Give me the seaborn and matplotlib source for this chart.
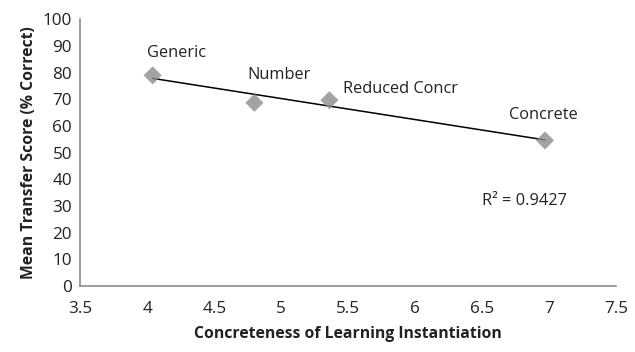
import numpy as np
import pandas as pd
import matplotlib
matplotlib.use("Agg")
import matplotlib.pyplot as plt
import seaborn as sns

# valeurs
conditions = ["Generic", "Number", "Reduced Concr", "Concrete"]
concreteness = [4.04, 4.80, 5.36, 6.97]
transfer_score = [79.0, 68.7, 69.7, 54.6]
r2_label = "R² = 0.9427"

x_ticks = [3.5, 4, 4.5, 5, 5.5, 6, 6.5, 7, 7.5]
y_ticks = [0, 10, 20, 30, 40, 50, 60, 70, 80, 90, 100]

df = pd.DataFrame({"cond": conditions, "x": concreteness, "y": transfer_score})

sns.set_theme(style="white")
plt.rcParams["font.family"] = ["Open Sans", "DejaVu Sans"]

fig = plt.figure(figsize=(6.35, 3.52), dpi=100)
ax = fig.add_axes([0.1265, 0.1875, 0.8435, 0.7575])

sns.regplot(data=df, x="x", y="y", ax=ax, ci=None, truncate=True,
            marker="D", color="#8c8c8c",
            scatter_kws={"s": 85, "zorder": 3, "edgecolor": "none", "color": "#8c8c8c"},
            line_kws={"color": "black", "lw": 1.1, "zorder": 2})

# etiquettes des points
offsets = {"Generic": (17, 16, "center"), "Number": (18, 20, "center"),
           "Reduced Concr": (10, 8, "left"), "Concrete": (-1, 18, "center")}
for _, row in df.iterrows():
    dx, dy, ha = offsets[row["cond"]]
    ax.annotate(row["cond"], (row["x"], row["y"]), xytext=(dx, dy),
                textcoords="offset points", ha=ha, va="center", fontsize=11.8,
                color="#222222")

ax.text(0.75, 0.32, r2_label, transform=ax.transAxes, ha="left", va="center",
        fontsize=11.8, color="#222222")

ax.set_xlim(3.5, 7.5)
ax.set_ylim(0, 100)
ax.set_xticks(x_ticks)
ax.set_xticklabels([f"{t:g}" for t in x_ticks])
ax.set_yticks(y_ticks)

sns.despine(ax=ax)
for side in ["left", "bottom"]:
    ax.spines[side].set_color("#8c8c8c")
    ax.spines[side].set_linewidth(1.2)
ax.tick_params(axis="both", which="major", direction="out", length=4, width=1,
               color="#8c8c8c", labelsize=12.3, labelcolor="#222222", pad=3)
ax.tick_params(axis="x", pad=7)
ax.tick_params(axis="y", direction="inout", length=6)

ax.set_xlabel("Concreteness of Learning Instantiation", fontsize=11.3, fontweight="bold",
              color="#222222", labelpad=6)
ax.set_ylabel("Mean Transfer Score (% Correct)", fontsize=11.3, fontweight="bold",
              color="#222222", labelpad=4)

fig.savefig("out.png", dpi=100)
